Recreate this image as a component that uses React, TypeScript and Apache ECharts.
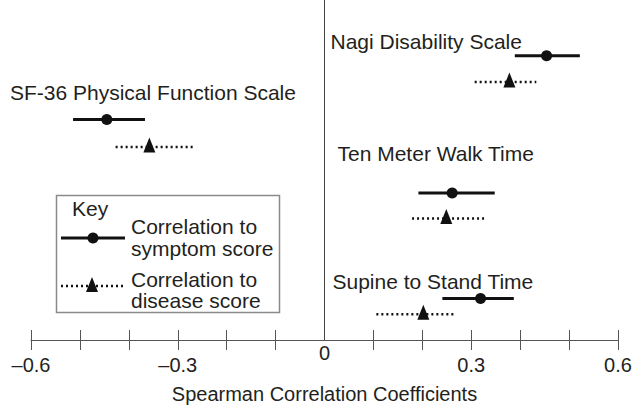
import React, { useEffect, useRef } from "react";
import * as echarts from "echarts";

// ---- data ----
const categories = [
  "Nagi Disability Scale",
  "SF-36 Physical Function Scale",
  "Ten Meter Walk Time",
  "Supine to Stand Time",
];
const symptomEstimate = [0.454, -0.445, 0.261, 0.319];
const symptomLow = [0.389, -0.514, 0.192, 0.241];
const symptomHigh = [0.522, -0.367, 0.348, 0.387];
const diseaseEstimate = [0.378, -0.358, 0.249, 0.202];
const diseaseLow = [0.307, -0.427, 0.179, 0.106];
const diseaseHigh = [0.433, -0.264, 0.329, 0.269];
// vertical row level of each mark (forest-plot rows)
const symptomRow = [11.7, 9.08, 6.05, 1.71];
const diseaseRow = [10.62, 7.95, 5.0, 1.06];
const tickValues = [-0.6, -0.5, -0.4, -0.3, -0.2, -0.1, 0.1, 0.2, 0.3, 0.4, 0.5, 0.6];
const labelValues = [-0.6, -0.3, 0.3, 0.6];
const zeroLabel = [0];
const xTitle = "Spearman Correlation Coefficients";
const keyTitle = "Key";
const keySymptom = ["Correlation to", "symptom score"];
const keyDisease = ["Correlation to", "disease score"];

// ---- layout ----
const W = 635;
const H = 409;
const X_MIN = -0.6;
const X_MAX = 0.6;
const GRID_LEFT = 31;
const GRID_RIGHT = 17;
const GRID_BOTTOM = 65;
const FONT = "'Liberation Sans', Arial, Helvetica, sans-serif";
const INK = "#231f20";
const MARK = "#111111";
const zeroX = GRID_LEFT + ((0 - X_MIN) / (X_MAX - X_MIN)) * (W - GRID_LEFT - GRID_RIGHT);

const labelPos = [
  { x: zeroX + 6, y: 41 },
  { x: 10, y: 92 },
  { x: zeroX + 13, y: 153 },
  { x: zeroX + 8, y: 281 },
];

export default function App() {
  const ref = useRef<HTMLDivElement>(null);
  useEffect(() => {
    if (!ref.current) return;
    const chart = echarts.init(ref.current, null, { renderer: "svg" });

    const barItem = (style: any) => (params: any, api: any) => {
      const p1 = api.coord([api.value(0), api.value(2)]);
      const p2 = api.coord([api.value(1), api.value(2)]);
      return {
        type: "line",
        shape: { x1: p1[0], y1: p1[1], x2: p2[0], y2: p2[1] },
        style,
      };
    };

    const fmt = (v: number) => {
      const r = Math.round(v * 10) / 10;
      if (r === 0) return "0";
      return r < 0 ? "\u2013" + String(Math.abs(r)) : String(r);
    };

    const baseX = {
      type: "value",
      min: X_MIN,
      max: X_MAX,
      interval: 0.1,
      position: "bottom",
      splitLine: { show: false },
    };

    const textStyle = { fill: INK, fontSize: 21, fontFamily: FONT };

    chart.setOption({
      animation: false,
      grid: { left: GRID_LEFT, right: GRID_RIGHT, top: 0, bottom: GRID_BOTTOM },
      xAxis: [
        {
          ...baseX,
          axisLine: { show: true, lineStyle: { color: "#555", width: 1 } },
          axisTick: {
            show: true,
            inside: true,
            length: 10,
            customValues: tickValues,
            lineStyle: { color: "#555", width: 1 },
          },
          axisLabel: {
            show: true,
            customValues: labelValues,
            formatter: fmt,
            margin: 15,
            color: INK,
            fontSize: 20,
            fontFamily: FONT,
          },
          name: xTitle,
          nameLocation: "middle",
          nameGap: 44,
          nameTextStyle: { color: INK, fontSize: 20, fontFamily: FONT },
        },
        {
          ...baseX,
          axisLine: { show: false },
          axisTick: {
            show: true,
            inside: false,
            length: 10,
            customValues: tickValues,
            lineStyle: { color: "#555", width: 1 },
          },
          axisLabel: { show: false },
        },
        {
          ...baseX,
          axisLine: { show: false },
          axisTick: { show: false },
          axisLabel: {
            show: true,
            customValues: zeroLabel,
            formatter: fmt,
            margin: 3,
            color: INK,
            fontSize: 20,
            fontFamily: FONT,
          },
        },
      ],
      yAxis: {
        type: "value",
        min: 0,
        max: 14,
        show: false,
      },
      series: [
        {
          type: "custom",
          name: "symptom bars",
          xAxisIndex: 0,
          renderItem: barItem({ stroke: MARK, lineWidth: 3 }),
          encode: { x: [0, 1], y: 2 },
          data: symptomLow.map((lo, i) => [lo, symptomHigh[i], symptomRow[i]]),
          markLine: {
            silent: true,
            symbol: "none",
            label: { show: false },
            lineStyle: { color: "#444", width: 1, type: "solid" },
            data: [{ xAxis: 0 }],
          },
          z: 2,
        },
        {
          type: "custom",
          name: "disease bars",
          xAxisIndex: 0,
          renderItem: barItem({ stroke: MARK, lineWidth: 2.5, lineDash: [2, 3] }),
          encode: { x: [0, 1], y: 2 },
          data: diseaseLow.map((lo, i) => [lo, diseaseHigh[i], diseaseRow[i]]),
          z: 2,
        },
        {
          type: "scatter",
          name: "Correlation to symptom score",
          xAxisIndex: 0,
          symbol: "circle",
          symbolSize: 11,
          itemStyle: { color: MARK, opacity: 1 },
          data: symptomEstimate.map((v, i) => [v, symptomRow[i]]),
          z: 3,
        },
        {
          type: "scatter",
          name: "Correlation to disease score",
          xAxisIndex: 0,
          symbol: "triangle",
          symbolSize: [12, 15],
          symbolOffset: [0, -2],
          itemStyle: { color: MARK, opacity: 1 },
          data: diseaseEstimate.map((v, i) => [v, diseaseRow[i]]),
          z: 3,
        },
      ],
      graphic: [
        ...categories.map((c, i) => ({
          type: "text",
          x: labelPos[i].x,
          y: labelPos[i].y,
          style: { ...textStyle, text: c, align: "left", verticalAlign: "middle" },
        })),
        {
          type: "rect",
          shape: { x: 56.5, y: 195.5, width: 223, height: 117 },
          style: { fill: "#fff", stroke: "#8a8a8a", lineWidth: 1.5 },
          z: 10,
        },
        {
          type: "text",
          x: 72,
          y: 208,
          style: { ...textStyle, text: keyTitle, verticalAlign: "middle" },
          z: 11,
        },
        {
          type: "line",
          shape: { x1: 61, y1: 238, x2: 125, y2: 238 },
          style: { stroke: MARK, lineWidth: 3 },
          z: 11,
        },
        {
          type: "circle",
          shape: { cx: 93, cy: 238, r: 5.5 },
          style: { fill: MARK },
          z: 11,
        },
        {
          type: "text",
          x: 131,
          y: 226,
          style: { ...textStyle, text: keySymptom[0], verticalAlign: "middle" },
          z: 11,
        },
        {
          type: "text",
          x: 131,
          y: 248,
          style: { ...textStyle, text: keySymptom[1], verticalAlign: "middle" },
          z: 11,
        },
        {
          type: "line",
          shape: { x1: 61, y1: 286, x2: 125, y2: 286 },
          style: { stroke: MARK, lineWidth: 2.5, lineDash: [2, 3] },
          z: 11,
        },
        {
          type: "polygon",
          shape: { points: [[92, 277], [86, 292], [98, 292]] },
          style: { fill: MARK },
          z: 11,
        },
        {
          type: "text",
          x: 131,
          y: 279,
          style: { ...textStyle, text: keyDisease[0], verticalAlign: "middle" },
          z: 11,
        },
        {
          type: "text",
          x: 131,
          y: 300,
          style: { ...textStyle, text: keyDisease[1], verticalAlign: "middle" },
          z: 11,
        },
      ],
    });
    return () => chart.dispose();
  }, []);

  return (
    <div
      ref={ref}
      style={{ position: "fixed", left: 0, top: 0, width: W, height: H, background: "#fff" }}
    />
  );
}
